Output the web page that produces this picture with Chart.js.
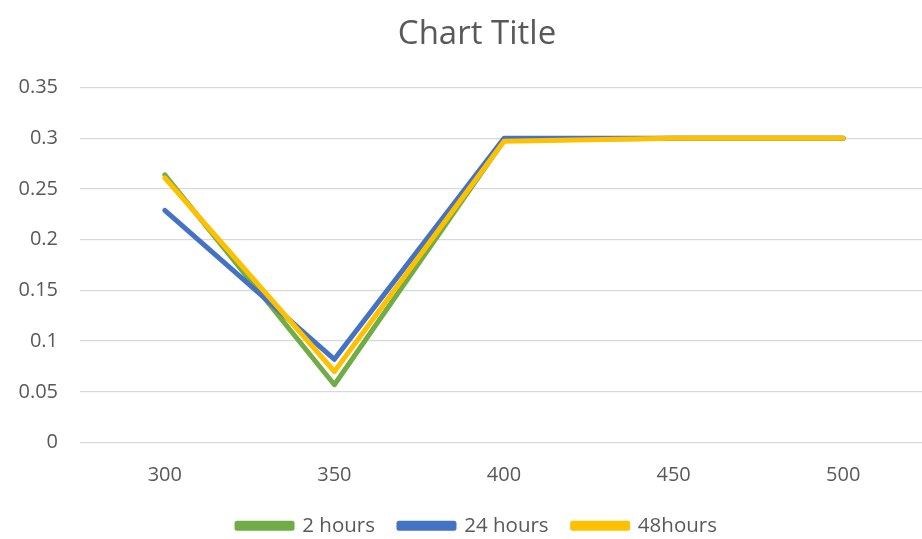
<!DOCTYPE html>
<html>
<head>
<meta charset="utf-8">
<script src="https://cdn.jsdelivr.net/npm/chart.js@4/dist/chart.umd.min.js"></script>
<style>
html,body{margin:0;padding:0;background:#fff;overflow:hidden;}
#wrap{width:922px;height:539px;overflow:hidden;}
</style>
</head>
<body>
<div id="wrap"><canvas id="c" width="954" height="539"></canvas></div>
<script>
const categories = ['300', '350', '400', '450', '500'];
const hours2 = [0.264, 0.057, 0.298, 0.300, 0.300];
const hours24 = [0.229, 0.082, 0.300, 0.300, 0.300];
const hours48 = [0.261, 0.070, 0.297, 0.300, 0.300];
const yTicks = [0, 0.05, 0.1, 0.15, 0.2, 0.25, 0.3, 0.35];

const txt = '#595959';
new Chart(document.getElementById('c'), {
  type: 'line',
  data: {
    labels: categories,
    datasets: [
      {label: '2 hours', data: hours2, borderColor: '#70AD47', backgroundColor: '#70AD47', borderWidth: 5, pointRadius: 0, order: 2, borderCapStyle: 'round', borderJoinStyle: 'round'},
      {label: '24 hours', data: hours24, borderColor: '#4472C4', backgroundColor: '#4472C4', borderWidth: 5, pointRadius: 0, order: 1, borderCapStyle: 'round', borderJoinStyle: 'round'},
      {label: '48hours', data: hours48, borderColor: '#FFC000', backgroundColor: '#FFC000', borderWidth: 5, pointRadius: 0, order: 0, borderCapStyle: 'round', borderJoinStyle: 'round'}
    ]
  },
  options: {
    responsive: false,
    animation: false,
    layout: {padding: {left: 0, right: 0, top: 11, bottom: -7}},
    plugins: {
      title: {display: true, text: 'Chart Title', color: txt, font: {family: 'Open Sans', size: 33, weight: 'normal'}, padding: {top: 4, bottom: 33}},
      legend: {
        position: 'bottom',
        labels: {
          color: txt, font: {family: 'Open Sans', size: 20.5}, boxWidth: 55, boxHeight: 5, padding: 24,
          sort: (a, b) => a.datasetIndex - b.datasetIndex
        }
      },
      tooltip: {enabled: false}
    },
    scales: {
      x: {
        offset: true,
        grid: {display: false, drawTicks: false},
        border: {display: false},
        ticks: {color: txt, font: {family: 'Open Sans', size: 20}, padding: 21},
        afterFit: (s) => { s.height = 49; }
      },
      y: {
        min: 0, max: 0.35,
        afterBuildTicks: (ax) => { ax.ticks = yTicks.map(v => ({value: v})); },
        grid: {color: '#d9d9d9', lineWidth: 1.3, drawTicks: false},
        border: {display: false},
        ticks: {color: txt, font: {family: 'Open Sans', size: 20}, padding: 22, callback: v => String(v)},
        afterFit: (s) => { s.width = 80; }
      },
      yRightMargin: {
        position: 'right',
        min: 0, max: 0.35,
        grid: {display: false, drawTicks: false},
        border: {display: false},
        ticks: {display: false},
        afterFit: (s) => { s.width = 26; }
      }
    }
  }
});
</script>
</body>
</html>
